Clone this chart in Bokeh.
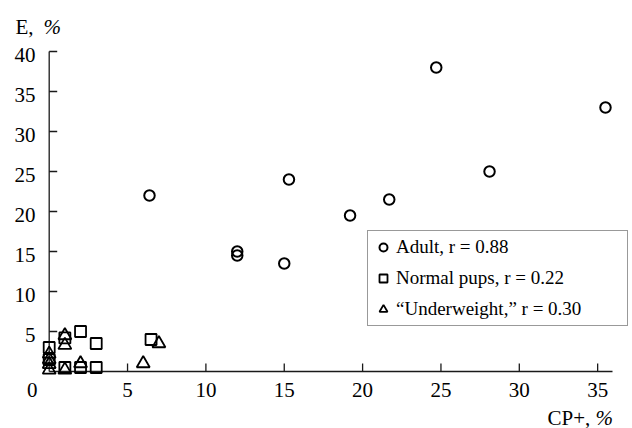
from math import pi
from bokeh.plotting import figure
from bokeh.models import Legend, LegendItem, Range1d
from bokeh.core.properties import value
from bokeh.embed import file_html
from bokeh.resources import INLINE

# ---- data ----
adult_x = [6.4, 12, 12, 15, 15.3, 19.2, 21.7, 24.7, 28.1, 35.5]
adult_y = [22, 15, 14.5, 13.5, 24, 19.5, 21.5, 38, 25, 33]

pups_x = [0, 0, 1, 1, 2, 2, 3, 3, 6.5]
pups_y = [3, 1.5, 4.2, 0.5, 5, 0.5, 3.5, 0.5, 4]

under_x = [0, 0, 0, 0, 1, 1, 1, 2, 6, 7]
under_y = [2.2, 1.5, 0.9, 0.2, 4.5, 3.3, 0.2, 1.0, 1.0, 3.5]

x_ticks = [5, 10, 15, 20, 25, 30, 35]
y_ticks = [5, 10, 15, 20, 25, 30, 35, 40]

labels = ["Adult, r = 0.88", "Normal pups, r = 0.22", "\u201cUnderweight,\u201d r = 0.30"]

# ---- layout (pixels) ----
W, H = 632, 428
OX, OY = 48.7, 371.0        # pixel position of the origin
SX, SY = 15.67, 8.0         # pixels per data unit
X0, X1 = -OX / SX, (W - OX) / SX
Y0, Y1 = -(H - OY) / SY, OY / SY
XEND, YEND = (612 - OX) / SX, 40

FONT = "Liberation Serif"
AX = "#1a1a1a"

p = figure(width=W, height=H, output_backend="svg", toolbar_location=None,
           x_range=Range1d(X0, X1), y_range=Range1d(Y0, Y1), min_border=0)
p.xaxis.visible = False
p.yaxis.visible = False
p.outline_line_color = None
p.xgrid.grid_line_color = None
p.ygrid.grid_line_color = None

# axis lines through the origin, inward ticks
p.segment(x0=[0, 0], y0=[0, 0], x1=[XEND, 0], y1=[0, YEND], line_color=AX, line_width=1.3)
p.ray(x=0, y=y_ticks, length=8, angle=0, length_units="screen", line_color=AX, line_width=1.3)
p.ray(x=x_ticks, y=0, length=8, angle=pi / 2, length_units="screen", line_color=AX, line_width=1.3)

tprops = dict(text_font=value(FONT), text_font_size=value("21px"), text_color="black")

# tick labels
p.text(x=x_ticks, y=[-18 / SY] * len(x_ticks), text=[str(t) for t in x_ticks],
       text_align="center", text_baseline="middle", **tprops)
p.text(x=[-13.7 / SX] * len(y_ticks), y=[t - 3 / SY for t in y_ticks],
       text=[str(t) for t in y_ticks], text_align="right", text_baseline="middle", **tprops)
p.text(x=[-17 / SX], y=[-18 / SY], text=["0"], text_align="center",
       text_baseline="middle", **tprops)

# axis titles
p.text(x=[(15 - OX) / SX], y=[(OY - 26) / SY], text=["E,"], text_align="left",
       text_baseline="middle", **tprops)
p.text(x=[(43 - OX) / SX], y=[(OY - 26) / SY], text=["%"], text_align="left",
       text_baseline="middle", text_font_style="italic", **tprops)
p.text(x=[(547 - OX) / SX], y=[(OY - 417) / SY], text=["CP+,"], text_align="left",
       text_baseline="alphabetic", **tprops)
p.text(x=[(595 - OX) / SX], y=[(OY - 417) / SY], text=["%"], text_align="left",
       text_baseline="alphabetic", text_font_style="italic", **tprops)

# data
r1 = p.scatter(adult_x, adult_y, marker="circle", size=10.5, line_color="black",
               line_width=2, fill_color=None)
r2 = p.scatter(pups_x, pups_y, marker="square", size=11, line_color="black",
               line_width=1.8, fill_color=None)
r3 = p.scatter(under_x, under_y, marker="triangle", size=13, line_color="black",
               line_width=1.8, fill_color=None)

legend = Legend(items=[LegendItem(label=labels[0], renderers=[r1]),
                       LegendItem(label=labels[1], renderers=[r2]),
                       LegendItem(label=labels[2], renderers=[r3])],
                location=(367, H - 326), padding=5, spacing=9,
                label_height=22, glyph_height=22, glyph_width=20, label_standoff=3,
                label_width=226,
                label_text_font=FONT, label_text_font_size="19px",
                label_text_color="black",
                border_line_color="#333333", border_line_width=1.5,
                background_fill_color="white", background_fill_alpha=1)
p.add_layout(legend)

open("out.html", "w").write(file_html(p, INLINE))
